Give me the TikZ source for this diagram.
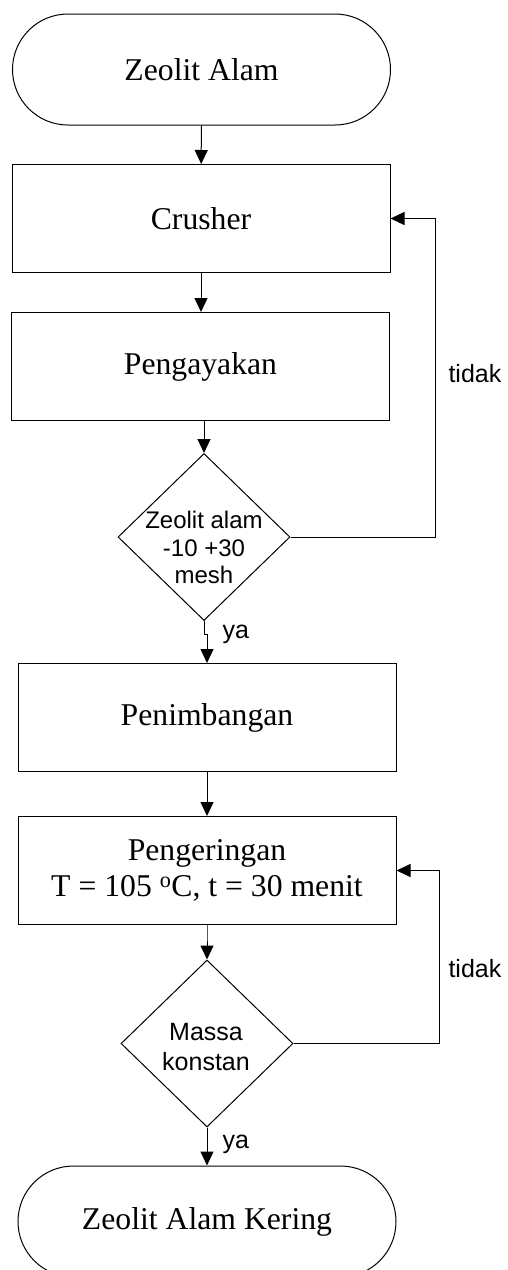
\documentclass[tikz,border=0pt]{standalone}
\usepackage{fontspec}
\setmainfont{Liberation Serif}
\newfontfamily\arialfont{Liberation Sans}
\usetikzlibrary{arrows.meta,shapes.misc,shapes.geometric}

\begin{document}
\begin{tikzpicture}[x=1pt,y=-1pt,
  line width=1pt,
  flow/.style={-{Triangle[width=13pt,length=14pt]}},
  terminal/.style={draw, rounded rectangle, inner sep=0pt,
    minimum width=378pt, minimum height=111pt,
    font=\fontsize{31.7}{36}\selectfont},
  process/.style={draw, rectangle, inner sep=0pt,
    minimum width=378pt, minimum height=108pt, align=center,
    font=\fontsize{31.7}{36}\selectfont},
  decision/.style={draw, diamond, inner sep=0pt,
    minimum width=172pt, minimum height=167pt},
  qtext/.style={align=center, inner sep=0pt},
  lbl/.style={inner sep=0pt, anchor=base west,
    font=\arialfont\fontsize{25}{30}\selectfont}
]
\useasboundingbox (0,0) rectangle (507,1270);
\clip (0,0) rectangle (507,1270);

% main column
\node[terminal] (start) at (201.5,69.5) {Zeolit Alam};
\node[process] (crush) at (201,218.5) {Crusher};
\node[process] (sieve) at (200.5,366.5) {Pengayakan};
\node[decision] (q1) at (204,537) {};
\node[qtext, font=\arialfont\fontsize{24}{27.5}\selectfont] (q1t) at (204,547.5)
  {Zeolit alam\\-10 +30\\mesh};
\node[process] (weigh) at (207,717.5) {Penimbangan};
\node[process] (dry) at (207,870.5) {Pengeringan\\T = 105 \textsuperscript{o}C, t = 30 menit};
\node[decision] (q2) at (207,1043.5) {};
\node[qtext, font=\arialfont\fontsize{25}{30}\selectfont] (q2t) at (206,1047)
  {Massa\\konstan};
\node[terminal] (finish) at (207,1221.5) {Zeolit Alam Kering};

% loop-back corners
\coordinate (c1) at (435,537);
\coordinate (c2) at (439,1043.5);

% connectors
\draw[flow] (start) -- (crush);
\draw[flow] (crush) -- (sieve.north -| crush.south);
\draw[flow] (sieve.south -| q1.north) -- (q1.north);
\draw[flow] (q1.south) -- ++(0,13) -| (weigh.north);
\draw[flow] (weigh) -- (dry);
\draw[flow] (dry.south) -- ++(0,12) -| (q2.north);
\draw[flow] (q2.south) -- (finish.north -| q2.south);
\draw[flow] (q1.east) -- (c1) |- (crush.east);
\draw[flow] (q2.east) -- (c2) |- (dry.east);

% branch labels
\node[lbl] (t1) at (448,382) {tidak};
\node[lbl] (y1) at (222,638) {ya};
\node[lbl] (t2) at (448,977) {tidak};
\node[lbl] (y2) at (222,1148) {ya};
\end{tikzpicture}
\end{document}
